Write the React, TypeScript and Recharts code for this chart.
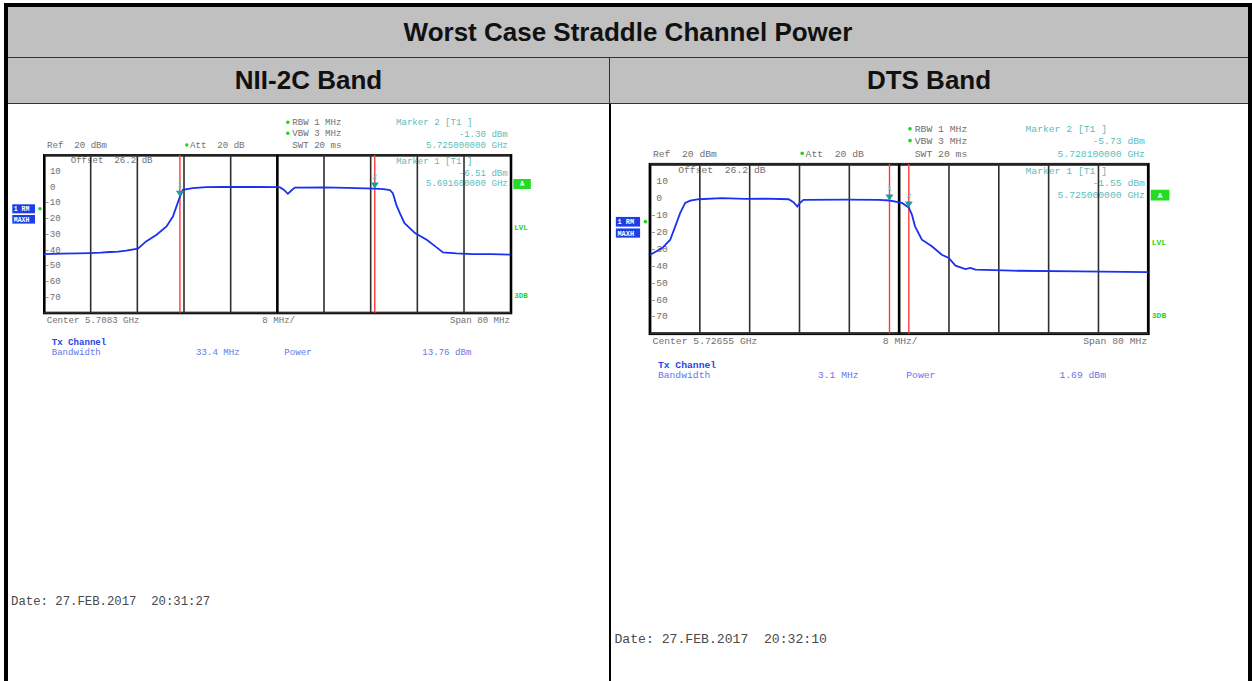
import React from 'react';
import {
  LineChart,
  Line,
  XAxis,
  YAxis,
  CartesianGrid,
  ReferenceLine,
  ReferenceDot
} from 'recharts';

// level axis, Ref 20 dBm, 10 dB/div
const levelTicks = [20, 10, 0, -10, -20, -30, -40, -50, -60, -70, -80];
const levelLabels = [10, 0, -10, -20, -30, -40, -50, -60, -70];

// NII-2C band: center 5.7083 GHz, span 80 MHz
const niiFreqTicks = [5.6683, 5.6763, 5.6843, 5.6923, 5.7003, 5.7083, 5.7163, 5.7243, 5.7323, 5.7403, 5.7483];
const niiFreq = [
  5.6683, 5.6713, 5.674, 5.6761, 5.678, 5.6796, 5.681, 5.6824, 5.6844, 5.6858, 5.6876,
  5.6893, 5.6904, 5.6911, 5.6916, 5.6921, 5.6938, 5.6961, 5.699, 5.7019, 5.705, 5.7087,
  5.7094, 5.7101, 5.7107, 5.7113, 5.7161, 5.7203, 5.725, 5.7265, 5.7276, 5.7281, 5.7287,
  5.7293, 5.7301, 5.7319, 5.7339, 5.7356, 5.7367, 5.739, 5.7418, 5.745, 5.7483
];
const niiLevel = [
  -42.8, -42.5, -42.4, -42.2, -41.9, -41.5, -41.3, -40.7, -39.4, -34.8, -30.6,
  -25.3, -19.0, -11.6, -6.5, -2.1, -1.0, -0.4, -0.2, -0.3, -0.3, -0.4,
  -2.0, -4.6, -2.5, -0.7, -0.5, -0.8, -1.3, -1.6, -2.3, -4.2, -11.6,
  -16.8, -23.2, -29.5, -33.7, -38.6, -41.8, -42.4, -42.8, -42.9, -43.2
];
const niiChannel = [5.6916, 5.725];
const niiMarkerFreq = [5.6916, 5.725];
const niiMarkerLevel = [-6.51, -1.3];

// DTS band: center 5.72655 GHz, span 80 MHz
const dtsFreqTicks = [5.68655, 5.69455, 5.70255, 5.71055, 5.71855, 5.72655, 5.73455, 5.74255, 5.75055, 5.75855, 5.76655];
const dtsFreq = [
  5.68655, 5.6868, 5.6885, 5.6898, 5.6906, 5.6914, 5.6922, 5.693, 5.6944, 5.6981, 5.7018,
  5.705, 5.7088, 5.7096, 5.7102, 5.7106, 5.7112, 5.7179, 5.7233, 5.725, 5.727, 5.7281,
  5.7286, 5.7291, 5.7302, 5.7318, 5.7334, 5.7345, 5.7356, 5.7372, 5.738, 5.7388, 5.7447,
  5.7554, 5.76655
];
const dtsLevel = [
  -33.5, -33.1, -29.6, -24.7, -16.8, -8.9, -3.0, -1.6, -0.8, -0.2, -0.6,
  -0.5, -0.8, -2.5, -5.1, -3.0, -1.2, -1.0, -1.2, -1.55, -3.0, -5.73,
  -9.9, -16.8, -24.7, -28.6, -33.6, -35.5, -40.0, -42.0, -41.3, -42.4, -43.0,
  -43.4, -43.8
];
const dtsChannel = [5.725, 5.7281];
const dtsMarkerFreq = [5.725, 5.7281];
const dtsMarkerLevel = [-1.55, -5.73];

const MONO = '"Liberation Mono", "DejaVu Sans Mono", monospace';
const GREY = '#707070';
const TEAL = '#5cbdbd';
const GREEN = '#1ed21e';
const BLUE = '#2a44e6';
const TRACE = '#1b30f0';
const GRID = '#2e2e2e';

// annotation layout is written in the NII-2C panel's units and scaled for the other
const BASE_W = 466.7;
const BASE_H = 157.7;
const M = 12;

type Panel = {
  left: number;
  top: number;
  width: number;
  height: number;
  freqTicks: number[];
  freq: number[];
  level: number[];
  channel: number[];
  markerFreq: number[];
  markerLevel: number[];
  center: string;
  bandwidth: string;
  power: string;
  date: string;
  dateY: number;
};

const panels: Panel[] = [
  {
    left: 44.3, top: 155.3, width: 466.7, height: 157.7,
    freqTicks: niiFreqTicks, freq: niiFreq, level: niiLevel, channel: niiChannel,
    markerFreq: niiMarkerFreq, markerLevel: niiMarkerLevel,
    center: 'Center 5.7083 GHz', bandwidth: '33.4 MHz', power: '13.76 dBm',
    date: 'Date: 27.FEB.2017  20:31:27', dateY: 450
  },
  {
    left: 650, top: 164.3, width: 498.3, height: 169.4,
    freqTicks: dtsFreqTicks, freq: dtsFreq, level: dtsLevel, channel: dtsChannel,
    markerFreq: dtsMarkerFreq, markerLevel: dtsMarkerLevel,
    center: 'Center 5.72655 GHz', bandwidth: '3.1 MHz', power: '1.69 dBm',
    date: 'Date: 27.FEB.2017  20:32:10', dateY: 445.5
  }
];

const T = (props: any) => (
  <text fontFamily={MONO} fontSize={9.1} fill={GREY} style={{ whiteSpace: 'pre' }} {...props} />
);

const Star = ({ x, y }: { x: number; y: number }) => (
  <circle cx={x} cy={y} r={1.7} fill={GREEN} />
);

const Readout = ({ p }: { p: Panel }) => {
  const sx = p.width / BASE_W;
  const sy = p.height / BASE_H;
  const lvl = (v: number) => `${v.toFixed(2)} dBm`;
  const ghz = (v: number) => `${v.toFixed(9)} GHz`;
  return (
    <svg style={{ position: 'absolute', left: 0, top: 0 }} width={1252} height={681}>
      <g transform={`translate(${p.left},${p.top}) scale(${sx},${sy})`}>
        <Star x={243.5} y={-33} />
        <T x={248} y={-30}>RBW 1 MHz</T>
        <Star x={243.5} y={-22} />
        <T x={248} y={-19}>VBW 3 MHz</T>
        <T x={248} y={-7}>SWT 20 ms</T>
        <T x={2.7} y={-7}>Ref  20 dBm</T>
        <Star x={142.5} y={-10.3} />
        <T x={145.7} y={-7}>Att  20 dB</T>

        <T x={351.7} y={-30} fill={TEAL}>Marker 2 [T1 ]</T>
        <T x={463.5} y={-18.5} fill={TEAL} textAnchor="end">{lvl(p.markerLevel[1])}</T>
        <T x={463.5} y={-7} fill={TEAL} textAnchor="end">{ghz(p.markerFreq[1])}</T>
        <T x={351.7} y={8.7} fill={TEAL}>Marker 1 [T1 ]</T>
        <T x={463.5} y={20.4} fill={TEAL} textAnchor="end">{lvl(p.markerLevel[0])}</T>
        <T x={463.5} y={31.2} fill={TEAL} textAnchor="end">{ghz(p.markerFreq[0])}</T>
        <T x={26.4} y={7.7}>Offset  26.2 dB</T>

        <rect x={469} y={23.7} width={17.5} height={10} fill="#22dd22" />
        <T x={477.7} y={31} fill="#fff" fontSize={7} fontWeight="bold" textAnchor="middle">A</T>
        <T x={470} y={75} fill={GREEN} fontSize={7.5} fontWeight="bold">LVL</T>
        <T x={470} y={142.7} fill={GREEN} fontSize={7.5} fontWeight="bold">3DB</T>

        <rect x={-32} y={49} width={22.7} height={9} fill="#1c3fe8" />
        <T x={-30.5} y={56} fill="#fff" fontSize={6.5} fontWeight="bold">1 RM</T>
        <Star x={-4.3} y={53.4} />
        <rect x={-32} y={59.7} width={22.7} height={8.6} fill="#1c3fe8" />
        <T x={-30.5} y={66.4} fill="#fff" fontSize={6.5} fontWeight="bold">MAXH</T>

        <T x={2.4} y={167.7}>{p.center}</T>
        <T x={218} y={167.7}>8 MHz/</T>
        <T x={465.7} y={167.7} textAnchor="end">Span 80 MHz</T>

        <T x={7.4} y={189.4} fill={BLUE} fontWeight="bold">Tx Channel</T>
        <T x={7.4} y={199.4} fill="#6677ea">Bandwidth</T>
        <T x={195.4} y={199.4} fill="#6677ea" textAnchor="end">{p.bandwidth}</T>
        <T x={240} y={199.4} fill="#6677ea">Power</T>
        <T x={427.1} y={199.4} fill="#6677ea" textAnchor="end">{p.power}</T>

        <T x={-33.3} y={p.dateY} fontSize={12.3} fill="#4a4a4a">{p.date}</T>

        <rect x={0} y={0} width={BASE_W} height={BASE_H} fill="none" stroke="#000" strokeWidth={2.6} />
      </g>
    </svg>
  );
};

// level label drawn just inside the left edge of the plot, over a small white patch
const LevelLabel = (props: any) => {
  const { cx, cy, v, sx, fs } = props;
  const label = String(v);
  const cw = 5.46 * sx;
  const x0 = cx + (v < 0 ? 0.4 : 5.9) * sx;
  const x1 = x0 + label.length * cw + 1;
  const xs = cx + 4 * sx;
  return (
    <g>
      <rect x={xs} y={cy - 1.5} width={x1 - xs} height={3} fill="#fff" />
      <text x={x0} y={cy + 3} fontFamily={MONO} fontSize={fs} fill={GREY}>{label}</text>
    </g>
  );
};

const MarkerShape = (props: any) => {
  const { cx, cy, n } = props;
  return (
    <g>
      <path d={`M${cx - 4},${cy - 6} L${cx + 4},${cy - 6} L${cx},${cy} Z`} fill="#1a9c9c" />
      <text x={cx} y={cy - 9.5} textAnchor="middle" fontFamily={MONO} fontSize={8} fill={TEAL}>{n}</text>
    </g>
  );
};

const Spectrum = ({ p }: { p: Panel }) => {
  const data = p.freq.map((f, i) => ({ freq: f, level: p.level[i] }));
  const sx = p.width / BASE_W;
  const fs = 9.1 * sx;
  const first = p.freqTicks[0];
  const last = p.freqTicks[p.freqTicks.length - 1];
  const centerFreq = p.freqTicks[5];
  return (
    <div style={{ position: 'absolute', left: p.left - M, top: p.top - M }}>
      <LineChart
        width={p.width + 2 * M}
        height={p.height + 2 * M}
        data={data}
        margin={{ top: M, right: M, bottom: M, left: M }}
      >
        <CartesianGrid stroke={GRID} strokeWidth={1.6} vertical={false} />
        <XAxis
          dataKey="freq"
          type="number"
          domain={[first, last]}
          ticks={p.freqTicks}
          interval={0}
          tick={false}
          axisLine={false}
          tickLine={false}
          height={0}
          allowDataOverflow
        />
        <YAxis
          type="number"
          domain={[-80, 20]}
          ticks={levelTicks}
          interval={0}
          width={0}
          tick={false}
          axisLine={false}
          tickLine={false}
          allowDataOverflow
        />
        {p.freqTicks.slice(1, -1).map((f) => (
          <ReferenceLine
            key={f}
            x={f}
            stroke={f === centerFreq ? '#000' : GRID}
            strokeWidth={f === centerFreq ? 2.6 : 1.6}
          />
        ))}
        {levelLabels.map((v) => (
          <ReferenceDot
            key={v}
            x={first}
            y={v}
            zIndex={-50}
            shape={(s: any) => <LevelLabel {...s} v={v} sx={sx} fs={fs} />}
          />
        ))}
        {p.channel.map((c) => (
          <ReferenceLine key={c} x={c} stroke="#ff3a3a" strokeWidth={1.4} />
        ))}
        <Line
          type="linear"
          dataKey="level"
          stroke={TRACE}
          strokeWidth={1.8}
          dot={false}
          isAnimationActive={false}
        />
        {p.markerFreq.map((f, i) => (
          <ReferenceDot
            key={f}
            x={f}
            y={p.markerLevel[i]}
            shape={(s: any) => <MarkerShape {...s} n={i + 1} />}
          />
        ))}
      </LineChart>
    </div>
  );
};

const headFont = '"Liberation Sans", Arial, sans-serif';

export default function App() {
  const cell = (left: number, top: number, width: number, height: number, text: string) => (
    <div
      style={{
        position: 'absolute', left, top, width, height,
        display: 'flex', alignItems: 'center', justifyContent: 'center',
        fontFamily: headFont, fontWeight: 'bold', fontSize: 26, color: '#111'
      }}
    >
      {text}
    </div>
  );
  return (
    <div style={{ position: 'absolute', left: 0, top: 0, width: 1252, height: 681, background: '#fff', overflow: 'hidden' }}>
      <div style={{ position: 'absolute', left: 8, top: 7, width: 1240, height: 96, background: '#c0c0c0' }} />
      <div style={{ position: 'absolute', left: 4, top: 3, width: 1248, height: 4, background: '#000' }} />
      <div style={{ position: 'absolute', left: 4, top: 3, width: 4, height: 678, background: '#000' }} />
      <div style={{ position: 'absolute', left: 1248, top: 3, width: 4, height: 678, background: '#000' }} />
      <div style={{ position: 'absolute', left: 8, top: 57, width: 1240, height: 1, background: '#333' }} />
      <div style={{ position: 'absolute', left: 8, top: 103, width: 1240, height: 1, background: '#333' }} />
      <div style={{ position: 'absolute', left: 609, top: 58, width: 1, height: 45, background: '#333' }} />
      <div style={{ position: 'absolute', left: 609, top: 104, width: 2, height: 577, background: '#000' }} />
      {cell(8, 7, 1240, 50, 'Worst Case Straddle Channel Power')}
      {cell(8, 58, 601, 45, 'NII-2C Band')}
      {cell(610, 58, 638, 45, 'DTS Band')}
      {panels.map((p, i) => (
        <React.Fragment key={i}>
          <Readout p={p} />
          <Spectrum p={p} />
        </React.Fragment>
      ))}
    </div>
  );
}
